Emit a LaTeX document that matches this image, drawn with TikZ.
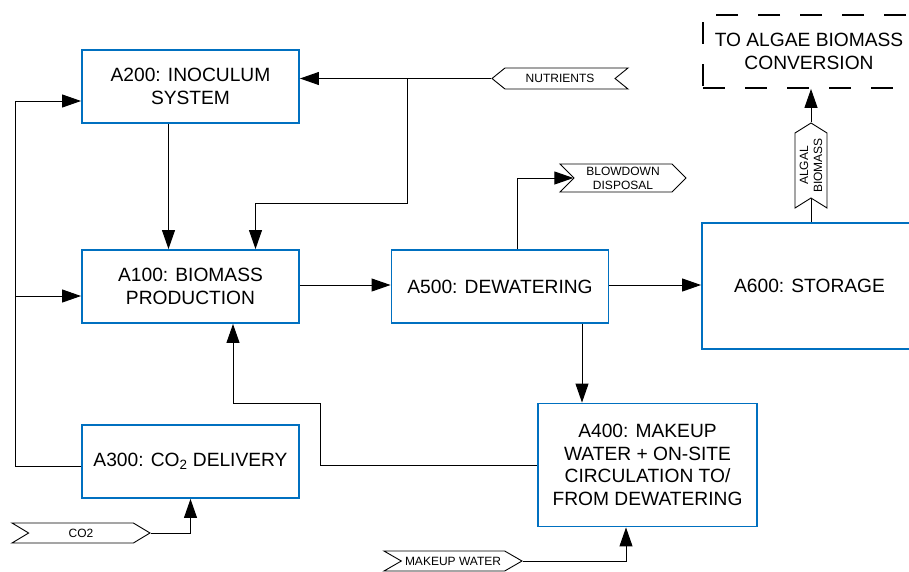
\documentclass[tikz,border=0pt]{standalone}
\usepackage{fontspec}
\setmainfont{Liberation Sans}
\usetikzlibrary{arrows.meta,calc,shapes.symbols,positioning,backgrounds}
\definecolor{unitblue}{RGB}{0,112,192}
\tikzset{PFD style/.style={x=1pt,y=-1pt,>={Triangle[length=19pt,width=13pt]}}}
\tikzset{unit/.style={draw=unitblue,line width=1.9pt,fill=white,align=center,inner sep=0pt,
    minimum width=217pt,minimum height=73pt,font=\fontsize{19.2}{22.5}\selectfont}}
\tikzset{stream/.style={draw,signal,fill=white,line width=0.9pt,align=center,inner sep=0pt,
    font=\fontsize{12}{14}\selectfont}}
\tikzset{flow/.style={->,line width=1pt}}

\begin{document}
\begin{tikzpicture}[PFD style]
	\useasboundingbox (0,0) rectangle (909,571);
	
	\node[unit] (A200) at (190.5,86.5) {A200: INOCULUM\\SYSTEM};
	\node[unit] (A100) at (190.5,286.5) {A100: BIOMASS\\PRODUCTION};
	\node[unit] (A300) at (190.5,461.5) {A300: CO\textsubscript{2} DELIVERY};
	\node[unit] (A500) at (500,286.5) {A500: DEWATERING};
	\node[unit,minimum width=219pt,minimum height=123pt] (A400) at (647.5,465) {A400: MAKEUP\\WATER + ON-SITE\\CIRCULATION TO/\\FROM DEWATERING};
	\node[unit,minimum width=215pt,minimum height=126pt] (A600) at (809.5,286) {A600: STORAGE};
	\node[draw,line width=1.8pt,dash pattern=on 22pt off 20pt,align=center,inner sep=0pt,
		minimum width=212pt,minimum height=73pt,font=\fontsize{19.2}{22.5}\selectfont] (CONV) at (809,51.5) {TO ALGAE BIOMASS\\CONVERSION};
	
	% stream tags
	\node[stream,signal to=west,signal from=east,signal pointer angle=78,minimum width=136pt,minimum height=21pt] (NUT) at (560,78.5) {NUTRIENTS};
	\node[stream,signal to=east,signal from=west,signal pointer angle=90,minimum width=126pt,minimum height=28pt] (BLOW) at (623,178) {BLOWDOWN\\DISPOSAL};
	\node[stream,signal to=east,signal from=west,signal pointer angle=62,minimum width=138pt,minimum height=20pt] (CO) at (81,533) {CO2};
	\node[stream,signal to=east,signal from=west,signal pointer angle=60,minimum width=138pt,minimum height=20pt] (MUW) at (453,561) {MAKEUP WATER};
	\node[stream,rotate=90,signal to=east,signal from=west,signal pointer angle=116,minimum width=85pt,minimum height=32pt] (ALG) at (811,165.5) {ALGAL\\BIOMASS};
	
	\coordinate (T1) at (407,203);
	\coordinate (L1) at (15,101);
	\coordinate (L2) at (15,296);
	\coordinate (R1) at (320,403);
	
	% nutrients
	\draw[flow] (NUT.west) -- (A200.east |- NUT.west);
	\draw[flow] (NUT.west -| T1) -- (T1) -| ($(A100.north)+(65,0)$);
	\draw[flow] ($(A200.south)+(-22,0)$) -- ($(A100.north)+(-22,0)$);
	
	% co2 loop on the left
	\draw[flow] ($(A300.west)+(0,4.5)$) -| (L1) -- (A200.west |- L1);
	\draw[flow] (L2) -- (A100.west |- L2);
	\draw[flow] (CO.east) -| (A300.south);
	
	\draw[flow] ($(A100.east)+(0,-1.5)$) -- ($(A500.west)+(0,-1.5)$);
	\draw[flow] ($(A500.east)+(0,-1.5)$) -- (A600.west |- 0,285);
	\draw[flow] ($(A500.north)+(17,0)$) |- (BLOW.west);
	\draw[flow] ($(A500.south)+(82,0)$) coordinate (D1) -- (D1 |- A400.north);
	
	% water return to production
	\draw[flow] (A400.west) -| (R1) -| ($(A100.south)+(42.5,0)$);
	\draw[flow] (MUW.east) -| ($(A400.south)+(-21.5,0)$);
	
	\begin{scope}[on background layer]
		\draw[line width=1pt] (ALG.center) -- (ALG.center |- A600.north);
	\end{scope}
	\draw[flow] (ALG.east) -- (ALG.east |- CONV.south);
\end{tikzpicture}
\end{document}
